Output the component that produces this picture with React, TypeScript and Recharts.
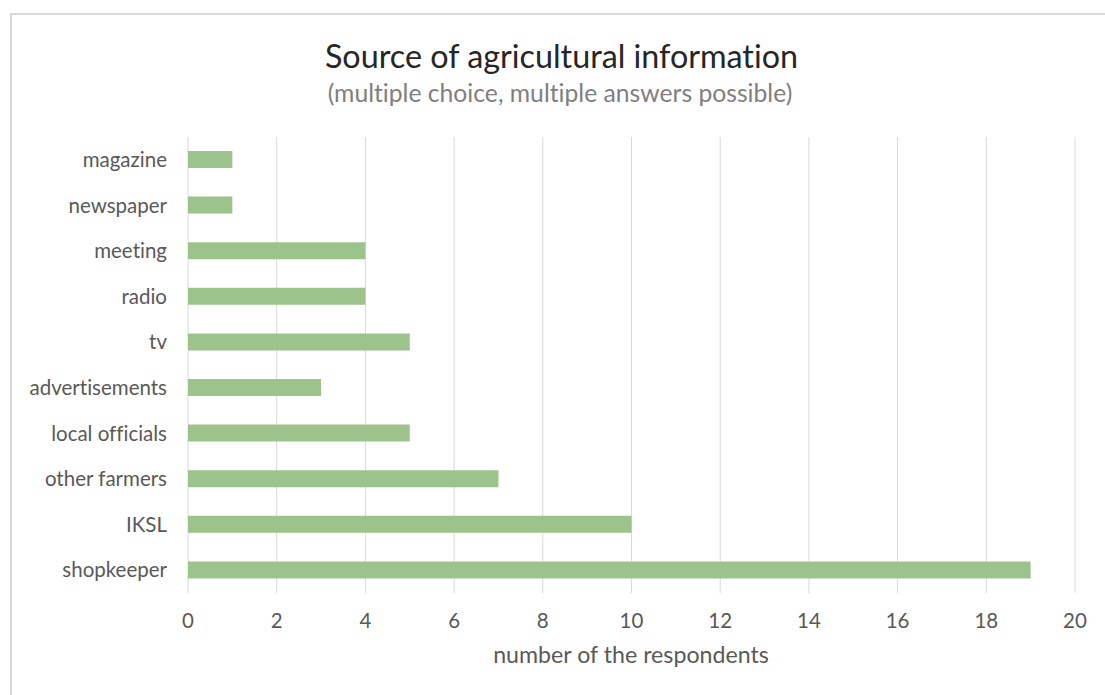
import React from "react";
import { BarChart, Bar, XAxis, YAxis, CartesianGrid } from "recharts";

const categories = [
  "magazine",
  "newspaper",
  "meeting",
  "radio",
  "tv",
  "advertisements",
  "local officials",
  "other farmers",
  "IKSL",
  "shopkeeper",
];
const respondents = [1, 1, 4, 4, 5, 3, 5, 7, 10, 19];
const xTicks = [0, 2, 4, 6, 8, 10, 12, 14, 16, 18, 20];

const title = "Source of agricultural information";
const subtitle = "(multiple choice, multiple answers possible)";
const xLabel = "number of the respondents";

const data = categories.map((c, i) => ({ name: c, value: respondents[i] }));

const FONT = "Lato, 'Open Sans', sans-serif";
const W = 1093;
const H = 680;

export default function App() {
  return (
    <div
      style={{
        position: "absolute",
        left: 10,
        top: 13,
        width: 1095,
        height: 682,
        boxSizing: "border-box",
        borderTop: "2px solid #d9d9d9",
        borderLeft: "2px solid #d9d9d9",
        overflow: "hidden",
        background: "#fff",
        fontFamily: FONT,
        fontVariantLigatures: "none",
        fontFeatureSettings: '"liga" 0, "clig" 0',
      }}
    >
      <div style={{ position: "relative", width: W, height: H }}>
        <BarChart
          width={W}
          height={H}
          data={data}
          layout="vertical"
          margin={{ top: 122, right: 30, bottom: 62, left: 0 }}
          barCategoryGap={0}
        >
          <CartesianGrid horizontal={false} stroke="#d9d9d9" strokeWidth={1} />
          <XAxis
            type="number"
            domain={[0, 20]}
            ticks={xTicks}
            interval={0}
            axisLine={false}
            tickLine={false}
            tickMargin={14}
            height={40}
            tick={{ fill: "#595959", fontSize: 20.5, fontFamily: FONT }}
          />
          <YAxis
            type="category"
            dataKey="name"
            width={176}
            axisLine={false}
            tickLine={false}
            tickMargin={15}
            interval={0}
            tick={{ fill: "#595959", fontSize: 20.5, fontFamily: FONT }}
          />
          <Bar dataKey="value" fill="#9cc38b" barSize={17} isAnimationActive={false} />
        </BarChart>
        <svg
          width={W}
          height={H}
          style={{ position: "absolute", left: 0, top: 0, pointerEvents: "none" }}
        >
          <text x={549.5} y={53} textAnchor="middle" fontSize={32.3} fill="#262626" fontFamily={FONT}>
            {title}
          </text>
          <text x={548} y={87} textAnchor="middle" fontSize={24.7} fill="#7f7f7f" fontFamily={FONT}>
            {subtitle}
          </text>
          <text x={619} y={648} textAnchor="middle" fontSize={23.2} fill="#595959" fontFamily={FONT}>
            {xLabel}
          </text>
        </svg>
      </div>
    </div>
  );
}
